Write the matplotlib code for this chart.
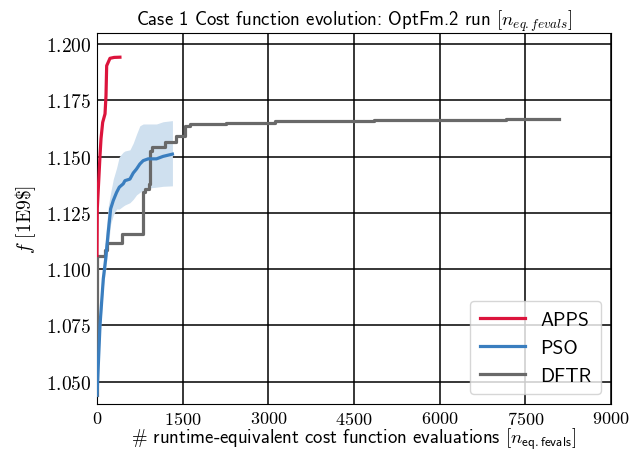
"""
Case 1 cost function evolution (OptFm.2): APPS / PSO / DFTR
"""
import matplotlib
matplotlib.use("Agg")
import matplotlib.pyplot as plt
from matplotlib.ticker import FuncFormatter, MultipleLocator

plt.rcParams["mathtext.fontset"] = "cm"
plt.rcParams["font.family"] = ["cmss10", "DejaVu Sans"]
plt.rcParams["axes.unicode_minus"] = False

# APPS
apps_x = [0, 5, 52, 70, 99, 140, 157, 169, 227, 300, 401]
apps_f = [1.106, 1.127, 1.1504, 1.158, 1.1652, 1.169, 1.177, 1.1904, 1.1937, 1.1941, 1.1942]

# PSO mean + band
pso_x = [0, 52, 110, 152, 197, 239, 285, 343, 390, 459, 489, 576, 634, 692, 750, 808, 895, 1041, 1157, 1320]
pso_f = [1.0439, 1.075, 1.0957, 1.1046, 1.1165, 1.1268, 1.1305, 1.1341, 1.1364, 1.1379, 1.1393,
         1.1400, 1.1427, 1.1445, 1.1467, 1.1482, 1.1490, 1.1490, 1.1501, 1.1511]
pso_lo = [1.0435, 1.070, 1.0920, 1.1000, 1.1100, 1.1200, 1.1240, 1.1267, 1.1267, 1.1280, 1.1285,
          1.1295, 1.1310, 1.1330, 1.1341, 1.1350, 1.1360, 1.1364, 1.1368, 1.1370]
pso_hi = [1.0445, 1.080, 1.1000, 1.1150, 1.1280, 1.1340, 1.1400, 1.1450, 1.1500, 1.1520, 1.1525,
          1.1530, 1.1560, 1.1600, 1.1637, 1.1645, 1.1645, 1.1645, 1.1655, 1.1660]

# DFTR (step curve)
dftr_x = [0, 5, 110, 140, 169, 413, 442, 797, 808, 838, 913, 925, 954, 1187, 1361, 1379,
          1478, 1536, 1623, 2263, 3124, 4851, 7161, 7836, 8080]
dftr_f = [1.044, 1.1058, 1.1058, 1.1083, 1.1117, 1.1117, 1.1157, 1.1157, 1.1342, 1.1357, 1.1379,
          1.1526, 1.1541, 1.1566, 1.1566, 1.1590, 1.1590, 1.1637, 1.1645, 1.1651, 1.1658, 1.1661,
          1.1665, 1.1668, 1.1668]

fig = plt.figure(figsize=(6.3, 4.52), dpi=100)
ax = fig.add_axes([0.154, 0.104, 0.816, 0.821])

ax.fill_between(pso_x, pso_lo, pso_hi, color="#cfe0ef", lw=0, zorder=2)
ax.plot(apps_x, apps_f, color="#dc143c", lw=2.3, label="APPS", zorder=4)
ax.plot(pso_x, pso_f, color="#3a7ebf", lw=2.3, label="PSO", zorder=4)
ax.step(dftr_x, dftr_f, where="post", color="#696969", lw=2.3, label="DFTR", zorder=3)

ax.set_xlim(0, 9000)
ax.set_ylim(1.040, 1.205)
ax.xaxis.set_major_locator(MultipleLocator(1500))
ax.yaxis.set_major_locator(MultipleLocator(0.025))
ax.xaxis.set_major_formatter(FuncFormatter(lambda v, _: f"${v:.0f}$"))
ax.yaxis.set_major_formatter(FuncFormatter(lambda v, _: f"${v:.3f}$"))
ax.tick_params(axis="y", labelsize=14, length=0, pad=4)
ax.tick_params(axis="x", labelsize=13, length=0, pad=4)
ax.grid(True, color="black", lw=1.1, zorder=1)
ax.set_axisbelow(True)
for sp in ax.spines.values():
    sp.set_color("black")

ax.set_title(r"Case 1 Cost function evolution: OptFm.2 run $[n_{eq.fevals}]$", fontsize=13.5, pad=5)
ax.set_xlabel(r"$\#$ runtime-equivalent cost function evaluations $[n_{\mathsf{eq.fevals}}]$",
              fontsize=13.5, labelpad=-1)
ax.set_ylabel(r"$f$ $[\mathrm{1E9\$}]$", fontsize=14, labelpad=6)

leg = ax.legend(loc="lower right", fontsize=14, framealpha=0.8, edgecolor="#cccccc",
                handlelength=2.3, borderpad=0.5)

fig.savefig("out.png", dpi=100)
